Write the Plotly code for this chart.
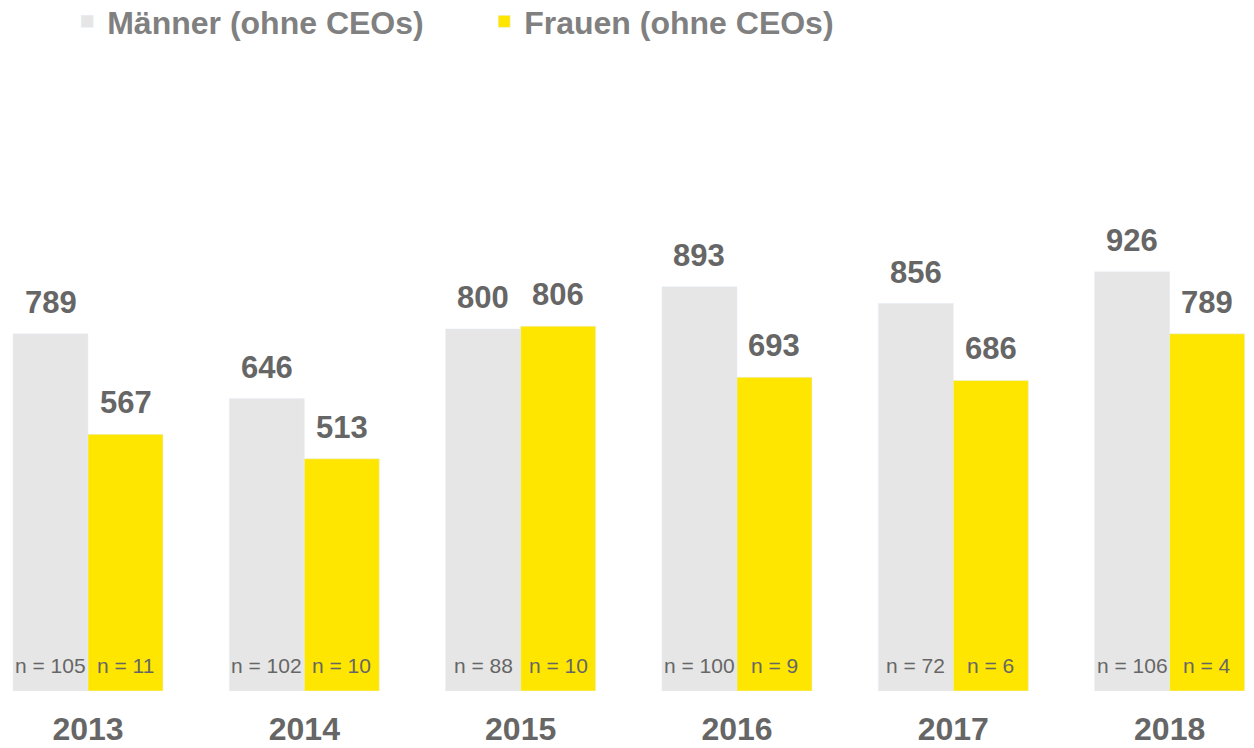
import plotly.graph_objects as go

years = ["2013", "2014", "2015", "2016", "2017", "2018"]
men = [789, 646, 800, 893, 856, 926]
women = [567, 513, 806, 693, 686, 789]
n_men = [105, 102, 88, 100, 72, 106]
n_women = [11, 10, 10, 9, 6, 4]

GREY = "#E6E6E6"
YELLOW = "#FFE600"
TXT = "#666666"
LEG = "#808080"
FONT = "Liberation Sans, Arial, sans-serif"

xs = list(range(len(years)))
W = 0.3467

fig = go.Figure()
fig.add_trace(go.Bar(x=xs, y=men, name="<b>Männer (ohne CEOs)</b>", marker_color=GREY,
                     width=W, offset=-W, hoverinfo="skip"))
fig.add_trace(go.Bar(x=xs, y=women, name="<b>Frauen (ohne CEOs)</b>", marker_color=YELLOW,
                     width=W, offset=0, hoverinfo="skip"))

for i in xs:
    for val, n, dx in ((men[i], n_men[i], -W / 2), (women[i], n_women[i], W / 2)):
        fig.add_annotation(x=i + dx, y=val, text=f"<b>{val}</b>", showarrow=False,
                           yanchor="bottom", yshift=12,
                           font=dict(family=FONT, size=31, color=TXT))
        fig.add_annotation(x=i + dx, y=0, text=f"n = {n}", showarrow=False,
                           yanchor="bottom", yshift=12,
                           font=dict(family=FONT, size=21, color=TXT))

fig.update_layout(
    width=1254, height=748,
    margin=dict(l=0, r=0, t=60, b=57, autoexpand=False),
    paper_bgcolor="white", plot_bgcolor="white",
    barmode="overlay",
    showlegend=True,
    legend=dict(orientation="h", x=0.0536, xanchor="left", y=1.1045, yanchor="top",
                font=dict(family=FONT, size=32, color=LEG),
                entrywidth=372, entrywidthmode="pixels",
                itemclick=False, itemdoubleclick=False),
    xaxis=dict(range=[-0.4068, 5.39], tickvals=xs,
               ticktext=[f"<b>{y}</b>" for y in years],
               tickfont=dict(family=FONT, size=32, color=TXT),
               ticks="outside", ticklen=10, tickcolor="rgba(0,0,0,0)",
               showgrid=False, zeroline=False, showline=False, automargin=False),
    yaxis=dict(range=[0, 1394], visible=False, showgrid=False, zeroline=False,
               automargin=False),
)

fig.write_html("out.html", config={"displayModeBar": False},
               post_script="document.body.style.margin='0';")
